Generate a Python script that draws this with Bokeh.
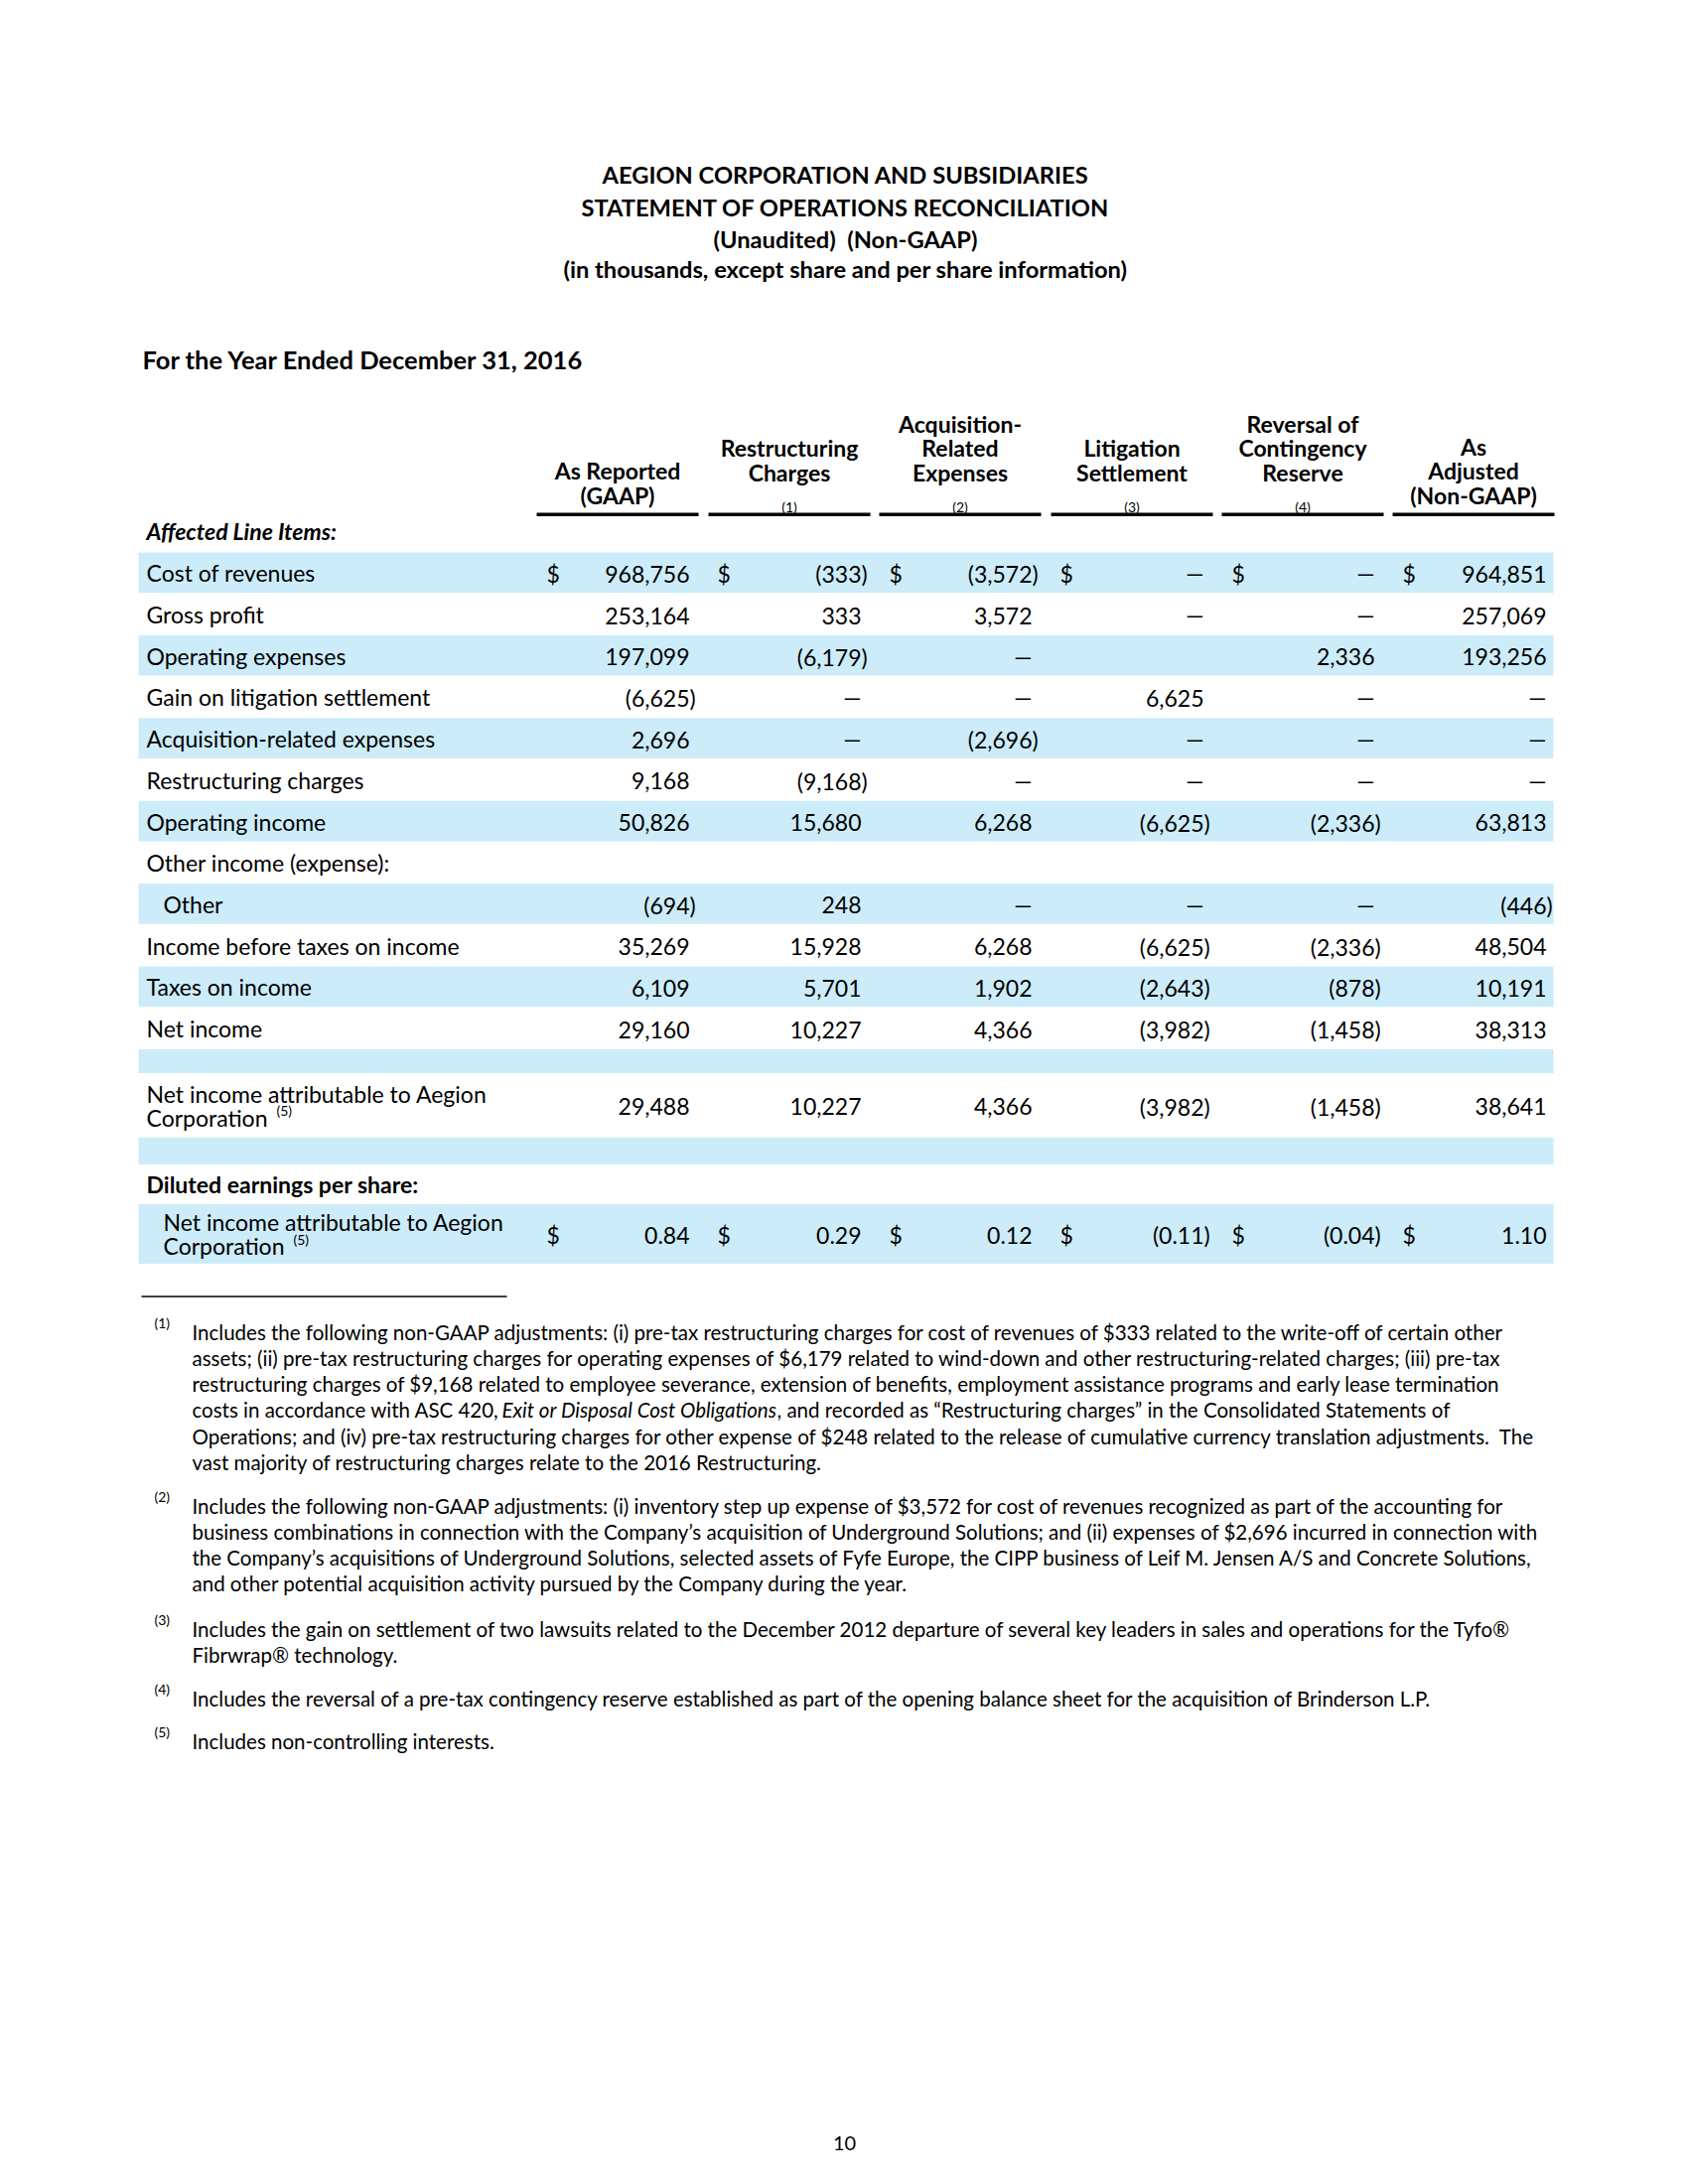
from bokeh.plotting import figure
from bokeh.models import Range1d
from bokeh.core.properties import value
from bokeh.embed import file_html
from bokeh.resources import INLINE

# ---------------- data ----------------
title_lines = ["AEGION CORPORATION AND SUBSIDIARIES",
               "STATEMENT OF OPERATIONS RECONCILIATION",
               "(Unaudited) \u00a0(Non-GAAP)",
               "(in thousands, except share and per share information)"]
period = "For the Year Ended December 31, 2016"
section = "Affected Line Items:"

col_headers = [["As Reported", "(GAAP)"],
               ["Restructuring", "Charges"],
               ["Acquisition-", "Related", "Expenses"],
               ["Litigation", "Settlement"],
               ["Reversal of", "Contingency", "Reserve"],
               ["As", "Adjusted", "(Non-GAAP)"]]
col_notes = ["", "(1)", "(2)", "(3)", "(4)", ""]

row_labels = [["Cost of revenues"], ["Gross profit"], ["Operating expenses"],
              ["Gain on litigation settlement"], ["Acquisition-related expenses"],
              ["Restructuring charges"], ["Operating income"], ["Other income (expense):"],
              ["Other"], ["Income before taxes on income"], ["Taxes on income"], ["Net income"],
              [], ["Net income attributable to Aegion", "Corporation"], [],
              ["Diluted earnings per share:"], ["Net income attributable to Aegion", "Corporation"]]
label_notes = {13: "(5)", 16: "(5)"}
indented_rows = [8, 16]
bold_rows = [15]
dollar_rows = [0, 16]

# None -> em dash, "" -> blank
as_reported = [968756, 253164, 197099, -6625, 2696, 9168, 50826, "", -694, 35269, 6109, 29160, "", 29488, "", "", 0.84]
restructuring = [-333, 333, -6179, None, None, -9168, 15680, "", 248, 15928, 5701, 10227, "", 10227, "", "", 0.29]
acquisition = [-3572, 3572, None, None, -2696, None, 6268, "", None, 6268, 1902, 4366, "", 4366, "", "", 0.12]
litigation = [None, None, "", 6625, None, None, -6625, "", None, -6625, -2643, -3982, "", -3982, "", "", -0.11]
reversal = [None, None, 2336, None, None, None, -2336, "", None, -2336, -878, -1458, "", -1458, "", "", -0.04]
as_adjusted = [964851, 257069, 193256, None, None, None, 63813, "", -446, 48504, 10191, 38313, "", 38641, "", "", 1.10]
columns = [as_reported, restructuring, acquisition, litigation, reversal, as_adjusted]

footnotes = [
    ("(1)", [
        "Includes the following non-GAAP adjustments: (i) pre-tax restructuring charges for cost of revenues of $333 related to the write-off of certain other",
        "assets; (ii) pre-tax restructuring charges for operating expenses of $6,179 related to wind-down and other restructuring-related charges; (iii) pre-tax",
        "restructuring charges of $9,168 related to employee severance, extension of benefits, employment assistance programs and early lease termination",
        ["costs in accordance with ASC 420,", "Exit or Disposal Cost Obligations", ", and recorded as \u201cRestructuring charges\u201d in the Consolidated Statements of"],
        "Operations; and (iv) pre-tax restructuring charges for other expense of $248 related to the release of cumulative currency translation adjustments. \u00a0The",
        "vast majority of restructuring charges relate to the 2016 Restructuring."]),
    ("(2)", [
        "Includes the following non-GAAP adjustments: (i) inventory step up expense of $3,572 for cost of revenues recognized as part of the accounting for",
        "business combinations in connection with the Company\u2019s acquisition of Underground Solutions; and (ii) expenses of $2,696 incurred in connection with",
        "the Company\u2019s acquisitions of Underground Solutions, selected assets of Fyfe Europe, the CIPP business of Leif M. Jensen A/S and Concrete Solutions,",
        "and other potential acquisition activity pursued by the Company during the year."]),
    ("(3)", [
        "Includes the gain on settlement of two lawsuits related to the December 2012 departure of several key leaders in sales and operations for the Tyfo\u00ae",
        "Fibrwrap\u00ae technology."]),
    ("(4)", [
        "Includes the reversal of a pre-tax contingency reserve established as part of the opening balance sheet for the acquisition of Brinderson L.P."]),
    ("(5)", ["Includes non-controlling interests."]),
]
page_number = "10"

# ---------------- layout ----------------
FONT = "Lato"
SHADE = "#CCECFA"
BODY = 23
FN = 20.5

p = figure(width=1684, height=2184, x_range=Range1d(0, 1684), y_range=Range1d(2184, 0),
           output_backend="svg", toolbar_location=None, min_border=0,
           x_axis_type=None, y_axis_type=None)
p.grid.visible = False
p.outline_line_color = None
p.background_fill_color = "white"
p.border_fill_color = "white"

groups = {}


def txt(x, y, s, size, style="normal", align="left"):
    key = (size, style, align)
    g = groups.setdefault(key, {"x": [], "y": [], "text": []})
    g["x"].append(x)
    g["y"].append(y)
    g["text"].append(s)


# titles
for i, t in enumerate(title_lines):
    txt(851, [175, 208, 240, 270][i], t, 23.7, "bold", "center")
txt(143, 361, period, 25.5, "bold")

# column headers
col_left = [540, 713, 885, 1058, 1230, 1402]
col_w = 163
for c, lines in enumerate(col_headers):
    cx = col_left[c] + col_w / 2
    bottom = 475 if col_notes[c] else 498
    n = len(lines)
    for k, s in enumerate(lines):
        txt(cx, bottom - (n - 1 - k) * 24.5, s, BODY, "bold", "center")
    if col_notes[c]:
        txt(cx, 510, col_notes[c], 14, "normal", "center")
p.quad(left=[l for l in col_left], right=[l + col_w for l in col_left],
       top=[516] * 6, bottom=[519.5] * 6, fill_color="black", line_color=None)

txt(147, 534, section, BODY, "bold italic")

# rows
row_heights = [41.7] * 12 + [25, 64, 28, 39, 61]
tops = []
y0 = 556
for h in row_heights:
    tops.append(y0)
    y0 += h
shaded = [i for i in range(len(row_heights)) if i % 2 == 0]
p.quad(left=139, right=1564, top=[tops[i] for i in shaded],
       bottom=[tops[i] + row_heights[i] - 1 for i in shaded],
       fill_color=SHADE, line_color=None)

num_right = [694, 867, 1039, 1212, 1384, 1557]
dollar_x = [550, 722, 895, 1067, 1240, 1412]


def fmt(v):
    if isinstance(v, float):
        return f"{abs(v):.2f}"
    return f"{abs(v):,}"


for r, lab in enumerate(row_labels):
    cy = tops[r] + row_heights[r] / 2
    lx = 164 if r in indented_rows else 147
    style = "bold" if r in bold_rows else "normal"
    if len(lab) == 1:
        txt(lx, cy, lab[0], BODY, style)
    elif len(lab) == 2:
        txt(lx, cy - 12, lab[0], BODY, style)
        txt(lx, cy + 12, lab[1], BODY, style)
        if r in label_notes:
            txt(lx + 131, cy + 5, label_notes[r], 14)
    for c, col in enumerate(columns):
        v = col[r]
        if v == "":
            continue
        if r in dollar_rows:
            txt(dollar_x[c], cy + 1, "$", BODY)
        if v is None:
            txt(num_right[c], cy, "\u2014", BODY, "normal", "right")
        elif v < 0:
            txt(num_right[c], cy + 1, "(" + fmt(v), BODY, "normal", "right")
            txt(num_right[c], cy + 1, ")", BODY, "normal", "left")
        else:
            txt(num_right[c], cy + 1, fmt(v), BODY, "normal", "right")

# footnotes
p.segment(x0=[142], y0=[1305.5], x1=[510], y1=[1305.5], line_color="black", line_width=1.3)
fn_starts = [1341, 1516, 1640, 1710, 1753]
for (mark, lines), ys in zip(footnotes, fn_starts):
    txt(155, ys - 9, mark, 14)
    for k, line in enumerate(lines):
        y = ys + k * 26.3
        if isinstance(line, list):
            txt(193, y, line[0], FN)
            txt(505, y, line[1], FN, "italic")
            txt(782, y, line[2], FN)
        else:
            txt(193, y, line, FN)

txt(850, 2158, page_number, 20, "normal", "center")

for (size, style, align), g in groups.items():
    p.text(x=g["x"], y=g["y"], text=g["text"], text_font=value(FONT),
           text_font_size=value(f"{size}px"), text_font_style=style,
           text_align=align, text_baseline="middle", text_color="black")

open("out.html", "w").write(file_html(p, INLINE))
